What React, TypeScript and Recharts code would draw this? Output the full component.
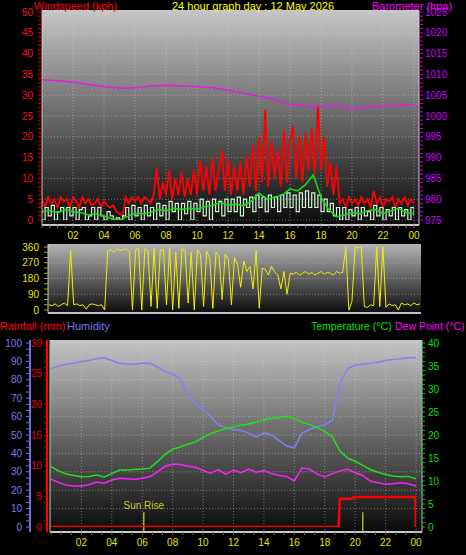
import React from 'react';
import { ComposedChart, Line, XAxis, YAxis, CartesianGrid, ReferenceLine, ReferenceDot } from 'recharts';

const FONT = '"Liberation Sans", Arial, sans-serif';

// wind, 0.2 h samples
const GUST_KPH = [
  5, 3, 5.5, 4, 5, 3, 5.5, 4.5,
  5, 3, 5.5, 4.5, 3, 5.5, 4, 5, 3.5,
  4, 5, 3, 4.5, 3.5,
  3, 3.5, 2, 1.5, 1,
  5.5, 4, 5.5, 4.5, 5.5, 4, 5.5, 5, 4, 6,
  12.5, 5, 9, 6, 12, 5, 10, 6, 11.5, 5.5,
  10, 6, 12, 6, 14.5, 7, 13, 6, 15, 7,
  12, 16.8, 7, 15, 6, 13, 7, 14, 6, 15.5,
  8, 18, 7, 20, 9, 26.5, 8, 19, 10, 17,
  8, 21.5, 9, 19, 22.5, 10, 20, 9, 21, 12,
  22, 11, 27.5, 12, 20, 8, 14, 6, 13, 4,
  5, 3, 5.5, 4, 5, 3.5, 5.5, 4, 5, 3, 7, 4, 5.5, 3, 5, 4.5, 5.5, 3, 5, 4, 5.5, 3.5, 5, 4,
];
const WIND_KPH = [
  0, 3, 1, 3.5, 0, 2, 3, 0, 3, 1, 3, 0, 2.5, 3, 0, 1, 3, 0, 3, 1, 0, 2, 1, 0, 0.5, 0, 1,
  3, 0, 3.5, 1, 3, 0, 3.5, 1, 3, 0,
  4, 1, 3.5, 0, 4.5, 2, 4, 0, 4, 1.5, 4.5, 0, 4, 2, 5, 1, 4.5, 0, 5, 2, 4.5, 1, 5, 2,
  5, 2, 5.5, 1, 5, 3, 5.5, 2, 6, 3, 5.5, 2, 6, 3, 5.5, 2, 6, 3, 6.5, 3,
  6, 2, 6.5, 3, 7, 3, 6.5, 3, 6, 2, 5, 2, 4, 1, 3, 0,
  3, 0, 2.5, 1, 3, 0, 3, 1, 2, 0, 3.5, 1, 3, 0, 2.5, 1, 3, 0, 3, 1, 2.5, 0, 3, 1,
];
// 0.5 h samples
const AVG_KPH = [
  2, 2.3, 1.8, 2.5, 2, 1.8, 1.2, 1.5, 1, 0.3, 0, 0.8, 1.6, 1.5, 1.8, 2.5, 2.2, 2.8, 2.5, 2.8,
  2.6, 3.2, 3.5, 4.2, 3.6, 3.8, 3.5, 4.5, 6.5, 5, 5.5, 6, 7.5, 7, 8.5, 10.8, 5.5, 2.5, 0.8, 1.2,
  1.8, 1.5, 2.2, 2.5, 1.5, 2.2, 2.8, 1.8, 1.5,
];
// hourly
const BARO_HPA = [
  1008.7, 1008.5, 1008.2, 1007.6, 1007.1, 1006.7, 1006.8, 1007.2, 1007.4, 1007.2, 1007.1, 1006.8,
  1006.2, 1005.5, 1004.7, 1003.9, 1002.8, 1002.4, 1002.2, 1002.6, 1001.8, 1002.1, 1002.4, 1002.5, 1002.8,
];
// wind direction, 0.2 h samples
const DIR_DEG = [
  30, 25, 35, 20, 30, 40, 25, 340,
  30, 35, 25, 30, 5, 30, 35, 30, 25, 30,
  0,
  340, 345, 330, 350, 340, 345, 350, 335, 0, 345, 350, 0, 350, 340,
  20, 350, 10, 340, 345, 30, 355, 0, 330, 10, 350, 340, 40, 330, 0, 345, 320, 20, 335, 300,
  10, 330, 310, 60, 320, 290, 30, 300,
  260, 130, 280, 220, 250, 120, 340, 10, 240, 230, 200, 250,
  215, 200, 120, 220, 90, 210, 205, 215, 200, 210, 220, 205, 215, 200, 210, 220, 205, 215, 210, 200,
  220, 210, 215,
  360, 0, 50, 360, 355, 360, 20,
  15, 30, 25, 360, 20, 360, 15, 35, 25, 30, 0, 40, 30, 35, 25, 40, 30, 35,
];
// 0.5 h samples
const HUMIDITY = [
  86, 87.5, 88.5, 89, 90, 90.5, 91.5, 92, 90.5, 89, 88.5, 88.5, 89, 89, 87, 84.5, 83, 80.5, 72, 67,
  64, 60, 55.5, 54, 53, 52.5, 51, 49, 51, 50, 47, 44, 43, 51, 53, 54.5, 55.5, 58, 78, 86,
  88, 88.5, 89, 89.5, 90.5, 91, 91.5, 92, 92,
];
const TEMP_C = [
  13.1, 12.2, 11.5, 11.2, 10.9, 11, 11.3, 10.9, 11.6, 12.4, 12.4, 12.5, 12.6, 12.8, 14.2, 15.8, 16.9, 17.4, 18, 18.5,
  19.5, 20.3, 20.9, 21.4, 21.8, 22.1, 22.4, 22.8, 23.3, 23.6, 23.8, 24.1, 23.5, 22.8, 22.3, 21.6, 20.8, 19.6, 16.5, 15,
  14.3, 13.4, 12.5, 11.9, 11.4, 11.1, 10.9, 11, 10.5,
];
const DEW_C = [
  10.4, 9.7, 9.1, 8.9, 8.9, 9.2, 9.8, 9.5, 10.2, 10.6, 10.5, 10.4, 10.6, 10.9, 12, 13.2, 13.7, 13.6, 13.2, 13,
  12.3, 11.7, 12.5, 11.5, 12.4, 11.8, 12.6, 11.9, 12.3, 11.6, 11.2, 11, 10, 12.8, 12.6, 11.5, 10.9, 11.6, 12.2, 12.6,
  11.8, 11.2, 10, 9.6, 9.3, 9.4, 9.6, 9.4, 8.9,
];
const RAIN_HOURS = [0, 18.9, 19.0, 19.8, 19.9, 23.95, 24];
const RAIN_MM = [0, 0, 4.6, 4.6, 4.9, 4.9, 0];
const SUN_HOURS = [6.1, 20.5];
const SUN_LABELS = ['Sun Rise', ''];

const HOUR_TICKS = [2, 4, 6, 8, 10, 12, 14, 16, 18, 20, 22, 24];
const HOUR_LABELS = ['02', '04', '06', '08', '10', '12', '14', '16', '18', '20', '22', '00'];
const WIND_TICKS = [0, 5, 10, 15, 20, 25, 30, 35, 40, 45, 50];
const BARO_TICKS = [975, 980, 985, 990, 995, 1000, 1005, 1010, 1015, 1020, 1025];
const DIR_TICKS = [0, 90, 180, 270, 360];
const DIR_LABELS = ['N', 'E', 'S', 'W', 'N'];
const HUM_TICKS = [0, 10, 20, 30, 40, 50, 60, 70, 80, 90, 100];
const RAIN_TICKS = [0, 5, 10, 15, 20, 25, 30];
const TEMP_TICKS = [0, 5, 10, 15, 20, 25, 30, 35, 40];

const rows = (vals: number[], step: number) => vals.map((v, i) => ({ h: i * step, v }));
const range = (n: number, f: (i: number) => number) => Array.from({ length: n }, (_, i) => f(i));

const gustRows = rows(GUST_KPH, 0.2);
const windRows = rows(WIND_KPH, 0.2);
const avgRows = rows(AVG_KPH, 0.5);
const baroRows = rows(BARO_HPA, 1);
const dirRows = rows(DIR_DEG, 0.2);
const humRows = rows(HUMIDITY, 0.5);
const tempRows = rows(TEMP_C, 0.5);
const dewRows = rows(DEW_C, 0.5);
const rainRows = RAIN_HOURS.map((h, i) => ({ h, v: RAIN_MM[i] }));

const TOP_X = range(49, (i) => i * 0.5);
const BOT_X = range(37, (i) => (i * 2) / 3);

const HourTick = (props: any) => {
  const { x, y, payload } = props;
  const i = HOUR_TICKS.findIndex((h) => Math.abs(h - payload.value) < 1e-6);
  if (i < 0) return <g />;
  return (
    <text x={x} y={y + 7} textAnchor="middle" fill="#e4e400" fontSize={10} fontFamily={FONT}>
      {HOUR_LABELS[i]}
    </text>
  );
};

const valueTick = (majors: number[], color: string) => (props: any) => {
  const { x, y, payload, textAnchor } = props;
  const i = majors.findIndex((m) => Math.abs(m - payload.value) < 1e-6);
  if (i < 0) return <g />;
  return (
    <text x={x} y={y + 3.5} textAnchor={textAnchor} fill={color} fontSize={10} fontFamily={FONT}>
      {majors[i]}
    </text>
  );
};

const CompassTick = (props: any) => {
  const { x, y, payload } = props;
  const i = DIR_TICKS.indexOf(payload.value);
  return (
    <text x={x} y={y + 4.5} textAnchor="start" fill="#f0f000" fontSize={12} fontFamily={FONT}>
      {DIR_LABELS[i]}
    </text>
  );
};

const grid = { stroke: '#d8d8d8', strokeOpacity: 0.45, strokeDasharray: '1 2' };

const Label = ({ x, y, color, size = 11, children }: { x: number; y: number; color: string; size?: number; children: React.ReactNode }) => (
  <div style={{ position: 'absolute', left: x, top: y, color, fontSize: size, lineHeight: '12px', whiteSpace: 'nowrap' }}>
    {children}
  </div>
);

export default function App() {
  return (
    <div style={{ position: 'fixed', left: 0, top: 0, width: 466, height: 555, background: '#000', fontFamily: FONT, overflow: 'hidden' }}>
      {/* wind + barometer */}
      <div style={{ position: 'absolute', left: 0, top: 0 }}>
        <ComposedChart width={466} height={245} margin={{ top: 10, right: 0, bottom: 0, left: 0 }}>
          <defs>
            <linearGradient id="bgTop" x1="0" y1="0" x2="0" y2="1">
              <stop offset="0%" stopColor="#c6c6c6" />
              <stop offset="100%" stopColor="#0a0a0a" />
            </linearGradient>
          </defs>
          <CartesianGrid fill="url(#bgTop)" {...grid} yAxisId="wind" horizontalValues={WIND_TICKS} verticalValues={HOUR_TICKS} />
          <XAxis type="number" dataKey="h" domain={[0, 24]} allowDataOverflow ticks={TOP_X} interval={0} height={20}
            padding={{ left: 0, right: 5 }} axisLine={{ stroke: '#c8c8c8', strokeWidth: 2 }} tickLine={{ stroke: '#777' }}
            tickSize={3} tickMargin={4} tick={HourTick} />
          <YAxis yAxisId="wind" width={42} domain={[0, 50]} allowDataOverflow ticks={range(51, (i) => i)} interval={0}
            padding={{ top: 2, bottom: 5 }} axisLine={{ stroke: '#c8c8c8' }} tickLine={{ stroke: '#e00000' }}
            tickSize={4} tickMargin={5} tick={valueTick(WIND_TICKS, '#ff1010')} />
          <YAxis yAxisId="baro" orientation="right" width={47} domain={[975, 1025]} allowDataOverflow
            ticks={range(51, (i) => 975 + i)} interval={0} padding={{ top: 2, bottom: 5 }}
            axisLine={{ stroke: '#d0d0d0' }} tickLine={{ stroke: '#cc00cc' }} tickSize={4} tickMargin={2}
            tick={valueTick(BARO_TICKS, '#cc00ff')} />
          <Line yAxisId="wind" data={gustRows} dataKey="v" stroke="#ff0000" strokeWidth={1.8} dot={false} isAnimationActive={false} />
          <Line yAxisId="wind" data={windRows} dataKey="v" type="stepAfter" stroke="#d0f5d0" strokeWidth={1.2} dot={false} isAnimationActive={false} />
          <Line yAxisId="wind" data={avgRows} dataKey="v" stroke="#10e010" strokeWidth={1.5} dot={false} isAnimationActive={false} />
          <Line yAxisId="baro" data={baroRows} dataKey="v" stroke="#e818e8" strokeWidth={1.5} dot={false} isAnimationActive={false} />
        </ComposedChart>
      </div>

      {/* wind direction */}
      <div style={{ position: 'absolute', left: 0, top: 238 }}>
        <ComposedChart width={466} height={82} margin={{ top: 6, right: 0, bottom: 6, left: 0 }}>
          <defs>
            <linearGradient id="bgMid" x1="0" y1="0" x2="0" y2="1">
              <stop offset="0%" stopColor="#b4b4b4" />
              <stop offset="100%" stopColor="#0c0c0c" />
            </linearGradient>
          </defs>
          <CartesianGrid fill="url(#bgMid)" {...grid} vertical={false} yAxisId="dir" horizontalValues={[90, 180, 270]} />
          <XAxis type="number" dataKey="h" domain={[0, 24]} allowDataOverflow height={1} tick={false} tickLine={false}
            padding={{ left: 1, right: 1 }} axisLine={{ stroke: '#c0c0c0', strokeWidth: 2 }} />
          <YAxis yAxisId="dir" width={48} domain={[0, 360]} ticks={range(13, (i) => i * 30)} interval={0}
            padding={{ top: 3, bottom: 3 }} axisLine={{ stroke: '#c8c8c8' }} tickLine={{ stroke: '#a8a800' }}
            tickSize={4} tickMargin={5} tick={valueTick(DIR_TICKS, '#e8e800')} />
          <YAxis yAxisId="compass" orientation="right" width={45} domain={[0, 360]} ticks={DIR_TICKS} interval={0}
            padding={{ top: 3, bottom: 3 }} axisLine={false} tickLine={false} tickSize={0} tickMargin={14} tick={CompassTick} />
          <Line yAxisId="dir" data={dirRows} dataKey="v" stroke="#f0f000" strokeWidth={1} dot={false} isAnimationActive={false} />
        </ComposedChart>
      </div>

      {/* rain, humidity, temperature; left axes stack inner to outer by id: axA, axB, axC */}
      <div style={{ position: 'absolute', left: 0, top: 330 }}>
        <ComposedChart width={466} height={225} margin={{ top: 10, right: 0, bottom: 0, left: 0 }}>
          <defs>
            <linearGradient id="bgBot" x1="0" y1="0" x2="0" y2="1">
              <stop offset="0%" stopColor="#c4c4c4" />
              <stop offset="100%" stopColor="#0a0a0a" />
            </linearGradient>
          </defs>
          <CartesianGrid fill="url(#bgBot)" {...grid} yAxisId="axC" horizontalValues={HUM_TICKS.slice(1)} verticalValues={HOUR_TICKS} />
          <XAxis type="number" dataKey="h" domain={[0, 24]} allowDataOverflow ticks={BOT_X} interval={0} height={23}
            padding={{ left: 1, right: 6 }} axisLine={{ stroke: '#c8c8c8', strokeWidth: 2 }} tickLine={{ stroke: '#666' }}
            tickSize={3} tickMargin={4} tick={HourTick} />
          <YAxis yAxisId="axA" width={3} domain={[0, 1]} ticks={[0, 1]} tick={false} tickLine={false} axisLine={{ stroke: '#c8c8c8' }} />
          <YAxis yAxisId="axB" width={17} domain={[0, 30]} allowDataOverflow ticks={range(31, (i) => i)} interval={0}
            padding={{ top: 3, bottom: 5 }} axisLine={{ stroke: '#ff0000', strokeWidth: 2 }} tickLine={{ stroke: '#e00000' }}
            tickSize={3} tickMargin={2} tick={valueTick(RAIN_TICKS, '#f00000')} />
          <YAxis yAxisId="axC" width={30} domain={[0, 100]} allowDataOverflow ticks={range(31, (i) => (i * 10) / 3)} interval={0}
            padding={{ top: 3, bottom: 5 }} axisLine={{ stroke: '#7070e0', strokeWidth: 2 }} tickLine={{ stroke: '#7070e0' }}
            tickSize={4} tickMargin={4} tick={valueTick(HUM_TICKS, '#7b7bf0')} />
          <YAxis yAxisId="temp" orientation="right" width={44} domain={[0, 40]} allowDataOverflow ticks={range(41, (i) => i)} interval={0}
            padding={{ top: 3, bottom: 5 }} axisLine={{ stroke: '#b8b8b8' }} tickLine={{ stroke: '#00c800' }}
            tickSize={3} tickMargin={3} tick={valueTick(TEMP_TICKS, '#00e000')} />
          <Line yAxisId="axC" data={humRows} dataKey="v" stroke="#8080f8" strokeWidth={1.5} dot={false} isAnimationActive={false} />
          <Line yAxisId="temp" data={tempRows} dataKey="v" stroke="#20e020" strokeWidth={1.5} dot={false} isAnimationActive={false} />
          <Line yAxisId="temp" data={dewRows} dataKey="v" stroke="#ff20ff" strokeWidth={1.5} dot={false} isAnimationActive={false} />
          {SUN_HOURS.map((h) => (
            <ReferenceLine key={h} yAxisId="axB" ifOverflow="visible" stroke="#b0b020" strokeWidth={1.5}
              segment={[{ x: h, y: -0.7 }, { x: h, y: 2.4 }]} />
          ))}
          <Line yAxisId="axB" data={rainRows} dataKey="v" stroke="#ff0000" strokeWidth={2.5} dot={false} isAnimationActive={false} />
          {SUN_HOURS.map((h, i) =>
            SUN_LABELS[i] ? (
              <ReferenceDot key={`l${h}`} yAxisId="axB" x={h} y={2.4} r={1} fill="none" stroke="none" ifOverflow="visible"
                label={{ value: SUN_LABELS[i], position: 'top', offset: 2, fill: '#c8c83c', fontSize: 10, fontFamily: FONT }} />
            ) : null,
          )}
        </ComposedChart>
      </div>

      <Label x={34} y={0} color="#ff0000">Windspeed (kph)</Label>
      <Label x={172} y={0} color="#ffff00">24 hour graph day : 12 May 2026</Label>
      <Label x={372} y={0} color="#ff00ff">Barometer (hpa)</Label>
      <Label x={0} y={320} color="#ff0000">Rainfall (mm)</Label>
      <Label x={67} y={320} color="#7878f0">Humidity</Label>
      <Label x={311} y={320} color="#00e000" size={10.5}>Temperature (°C)</Label>
      <Label x={395} y={320} color="#ff00ff" size={10.5}>Dew Point (°C)</Label>
    </div>
  );
}
